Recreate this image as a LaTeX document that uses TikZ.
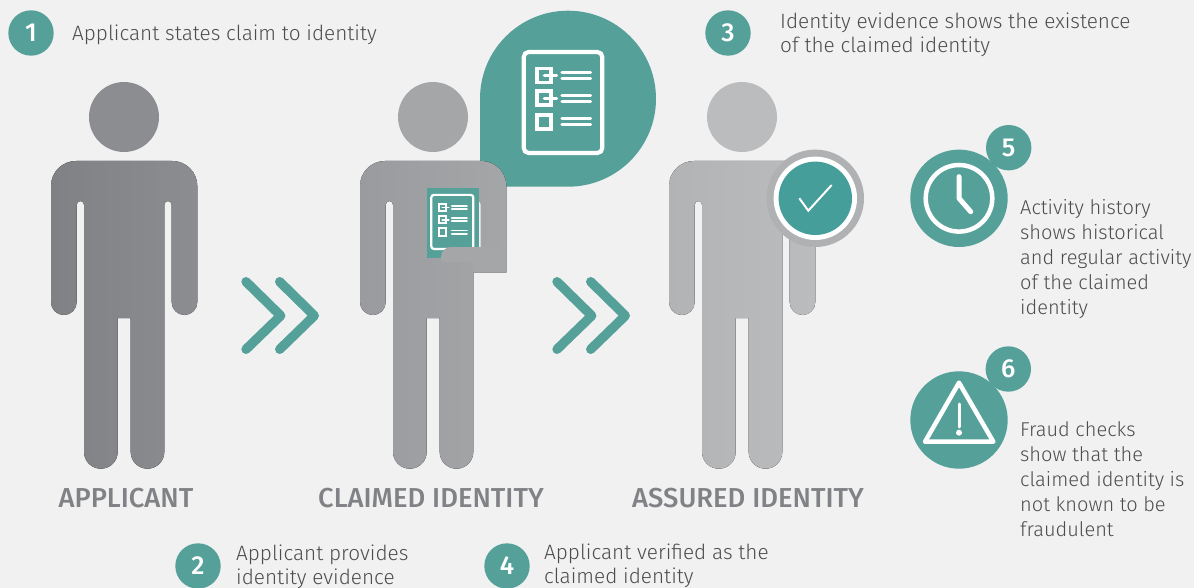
\documentclass[tikz,border=0pt]{standalone}
\usepackage{fontspec}
\setmainfont{Fira Sans Light}[BoldFont={Fira Sans Medium}]
\definecolor{paper}{HTML}{F1F1F1}
\definecolor{teal}{HTML}{55A19A}
\definecolor{tick}{HTML}{459E9A}
\definecolor{ring}{HTML}{AFB1B3}
\definecolor{ink}{HTML}{4D4D4F}
\definecolor{caption}{HTML}{808285}

% icon with the three ticked lines: centre x, centre y, scale, line width
\newcommand{\listicon}[4]{
	\begin{scope}[shift={(#1,#2)}, scale=#3, white, line width=#4, line cap=round]
		\draw [line width=1.3*#4, rounded corners=#3*5pt] (-39.3,-50.5) rectangle (39.3,50.5);
		\foreach \y in {-27,-4.2,19.2} {
			\draw [line width=1.2*#4, line cap=butt] (-25.7,\y-7) rectangle (-11.7,\y+7);
			\draw (-1,\y-3) -- (27.5,\y-3);
			\draw (-1,\y+3) -- (27.5,\y+3);
		}
		\foreach \y in {-27,-4.2} {
			\draw (-18.7,\y) -- (-6.5,\y);
		}
	\end{scope}
}

\begin{document}
\begin{tikzpicture}[x=1pt, y=-1pt]
	\tikzstyle{Badge} = [circle, minimum size=45.4pt, inner sep=0pt, fill=teal, text=white, font=\fontsize{26}{26}\selectfont\bfseries]
	\tikzstyle{Disc} = [circle, minimum size=97.4pt, inner sep=0pt, fill=teal]
	\tikzstyle{Note} = [anchor=west, align=left, inner sep=0pt, text=ink, font=\fontsize{20}{25}\selectfont]
	\tikzstyle{WideNote} = [Note, font=\fontsize{20.75}{24}\selectfont]
	\tikzstyle{Caption} = [inner sep=0pt, text=caption, font=\fontsize{27.4}{27.4}\selectfont\bfseries]
	\tikzstyle{chevron} = [teal, line width=9.4pt, line cap=round, line join=round]
	\tikzstyle{white line} = [white, line cap=round, line join=round]

	\useasboundingbox (0,0) rectangle (1194,588);
	\fill [paper] (0,0) rectangle (1194,588);

	% speech bubble, behind the second person
	\fill [teal] (480,186.7) -- (480,98.7) .. controls (480,50) and (519.4,10.7) .. (568,10.7)
		.. controls (616.6,10.7) and (656,50) .. (656,98.7)
		.. controls (656,147.3) and (616.6,186.7) .. (568,186.7) -- cycle;
	\listicon{563}{102.5}{1}{3.2pt}

	% people
	\foreach \dx/\cl/\cr in {0/808184/8C8D90, 618/B1B3B5/BBBCBE} {
		\definecolor{cl}{HTML}{\cl}
		\definecolor{cr}{HTML}{\cr}
		\begin{scope}[xshift=\dx pt]
			\fill [cr] (124,117) circle (35);
			\fill [left color=cl, right color=cr] (124,161) [rounded corners=25pt] -- (197.3,161)
				[rounded corners=12.8pt] -- (197.3,315) -- (171.7,315)
				[rounded corners=3.7pt] -- (171.7,201) -- (164.3,201)
				[rounded corners=16.8pt] -- (164.3,468.7) -- (130.7,468.7)
				[sharp corners] -- (130.7,318) -- (117.7,318)
				[rounded corners=16.8pt] -- (117.7,468.7) -- (84,468.7)
				[rounded corners=3.7pt] -- (84,201) -- (76.7,201)
				[rounded corners=12.8pt] -- (76.7,315) -- (51,315)
				[rounded corners=25pt] -- (51,161) [sharp corners] -- (124,161);
		\end{scope}
	}
	\definecolor{cl}{HTML}{9A9B9E}
	\definecolor{cr}{HTML}{A5A6A8}
	\begin{scope}[xshift=309pt]
		\fill [cr] (124,117) circle (35);
		\fill [left color=cl, right color=cr] (124,161) [rounded corners=25pt] -- (197.3,161)
			[sharp corners] -- (197.3,272.7) -- (164.3,272.7)
			[rounded corners=16.8pt] -- (164.3,468.7) -- (130.7,468.7)
			[sharp corners] -- (130.7,318) -- (117.7,318)
			[rounded corners=16.8pt] -- (117.7,468.7) -- (84,468.7)
			[rounded corners=3.7pt] -- (84,201) -- (76.7,201)
			[rounded corners=12.8pt] -- (76.7,315) -- (51,315)
			[rounded corners=25pt] -- (51,161) [sharp corners] -- (124,161);
		\fill [paper, rounded corners=3.7pt] (164.3,201) rectangle (171.7,250);
	\end{scope}

	% document held by the second person
	\fill [teal] (427,188) rectangle (479,257.7);
	\listicon{452.3}{221.9}{0.535}{1.7pt}
	\fill [cr] (441,262) [rounded corners=10pt] -- (441,247) [sharp corners] -- (506,247) -- (506,272.7) -- (473.3,272.7) -- (473.3,262) -- cycle;

	% chevrons
	\foreach \dx in {0,311} {
		\draw [chevron, xshift=\dx pt] (246,281.7) -- (280.7,315.7) -- (246,349.3);
		\draw [chevron, xshift=\dx pt] (279.7,281.7) -- (314.3,315.7) -- (279.7,349.3);
	}

	% check mark
	\node (ringOuter) [Disc, fill=ring] at (815.3,198.3) {};
	\node (ringInner) [circle, minimum size=83.4pt, inner sep=0pt, fill=white] at (815.3,198.3) {};
	\node (ringCore) [circle, minimum size=73.4pt, inner sep=0pt, fill=tick] at (815.3,198.3) {};
	\draw [white line, line width=2pt, line cap=butt, line join=miter] (799.3,198.3) -- (808.3,210.7) -- (831.7,185);

	% clock
	\node (clock) [Disc] at (959,198.3) {};
	\node (badgeFive) [Badge] at (1008.7,147.7) {5};
	\draw [white, line width=4.5pt] (959,198.3) circle (33.3);
	\draw [white line, line width=5pt] (959,176.7) -- (959,198.3) -- (970.7,211.7);

	% warning
	\node (warning) [Disc] at (959,420) {};
	\node (badgeSix) [Badge] at (1008.3,369) {6};
	\draw [white line, line width=4.5pt] (959,382.7) -- (993.3,441.7) -- (925,441.7) -- cycle;
	\draw [white line, line width=3pt] (959,404) -- (959,427);
	\fill [white] (959,432.7) circle (3);

	% numbered notes
	\node (badgeOne) [Badge] at (31,33) {1};
	\node (noteOne) [WideNote] at (72,34.5) {Applicant states claim to identity};
	\node (badgeTwo) [Badge] at (198,566) {2};
	\node (noteTwo) [WideNote] at (236,566.5) {Applicant provides\\identity evidence};
	\node (badgeThree) [Badge] at (728,33) {3};
	\node (noteThree) [WideNote] at (780,35.2) {Identity evidence shows the existence\\of the claimed identity};
	\node (badgeFour) [Badge] at (507,566) {4};
	\node (noteFour) [WideNote] at (544,566) {Applicant verified as the\\claimed identity};
	\node (noteFive) [Note] at (1020,258.7) {Activity history\\shows historical\\and regular activity\\of the claimed\\identity};
	\node (noteSix) [Note] at (1020,479) {Fraud checks\\show that the\\claimed identity is\\not known to be\\fraudulent};

	% captions
	\node (applicant) [Caption] at (126,498) {APPLICANT};
	\node (claimed) [Caption] at (431,498) {CLAIMED IDENTITY};
	\node (assured) [Caption] at (748,498) {ASSURED IDENTITY};
\end{tikzpicture}
\end{document}
